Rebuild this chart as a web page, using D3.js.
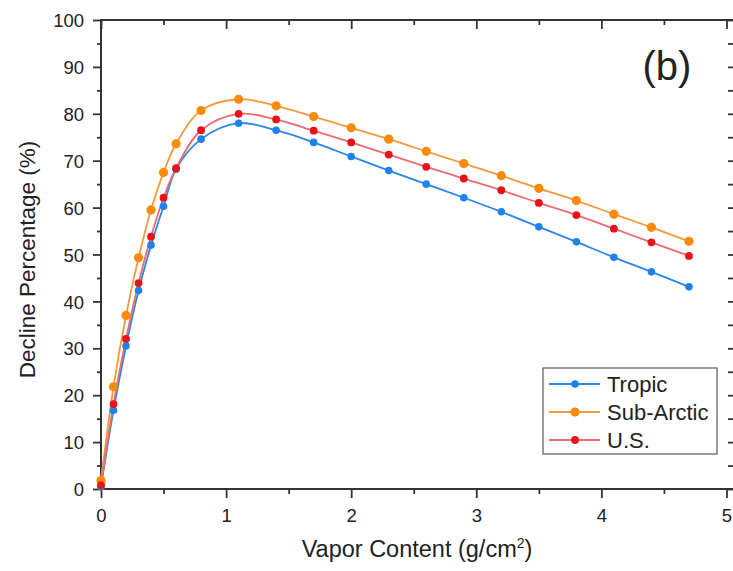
<!DOCTYPE html>
<html>
<head>
<meta charset="utf-8">
<script src="https://cdn.jsdelivr.net/npm/d3@7"></script>
<style>
  body { margin: 0; background: #fff; }
  text { font-family: "Liberation Sans", Arial, sans-serif; fill: #222; }
</style>
</head>
<body>
<svg id="chart" width="733" height="571"></svg>
<script>
// Water vapour content (g/cm^2) and decline percentage for three atmosphere models
const vapor = [0, 0.1, 0.2, 0.3, 0.4, 0.5, 0.6, 0.8, 1.1, 1.4, 1.7, 2.0, 2.3, 2.6, 2.9, 3.2, 3.5, 3.8, 4.1, 4.4, 4.7];
const tropic = [0.5, 16.8, 30.5, 42.3, 52.0, 60.3, 68.2, 74.6, 78.0, 76.5, 73.9, 70.9, 67.9, 65.0, 62.1, 59.1, 55.9, 52.7, 49.4, 46.3, 43.1];
const subArctic = [1.8, 21.8, 37.0, 49.3, 59.5, 67.5, 73.6, 80.7, 83.1, 81.7, 79.4, 77.0, 74.6, 72.0, 69.4, 66.8, 64.1, 61.5, 58.6, 55.8, 52.8];
const us = [0.8, 18.1, 32.0, 43.9, 53.8, 62.1, 68.4, 76.5, 80.0, 78.8, 76.4, 73.9, 71.3, 68.7, 66.2, 63.7, 61.0, 58.4, 55.5, 52.6, 49.7];

const seriesNames = ["Tropic", "Sub-Arctic", "U.S."];
const xTicks = [0, 1, 2, 3, 4, 5];
const yTicks = [0, 10, 20, 30, 40, 50, 60, 70, 80, 90, 100];
const panelLabel = "(b)";

const series = [
  { name: seriesNames[0], values: tropic, dot: "#1f82ea", line: "#2a86e8", r: 3.8 },
  { name: seriesNames[1], values: subArctic, dot: "#f98a0c", line: "#f39a3c", r: 4.6 },
  { name: seriesNames[2], values: us, dot: "#ea1219", line: "#ec6a72", r: 3.9 }
];

const svg = d3.select("#chart");
const W = 733;
const pLeft = 101, pTop = 20, pRight = 726.5, pBottom = 489;

const x = d3.scaleLinear().domain([0, 5]).range([pLeft, pRight]);
const y = d3.scaleLinear().domain([0, 100]).range([pBottom, pTop]);

const axisColor = "#333";
const minorX = d3.range(0, 5.01, 0.5);
const minorY = d3.range(0, 100.1, 5);

// Bottom axis (outward ticks)
const gB = svg.append("g").attr("transform", `translate(0,${pBottom})`);
gB.call(d3.axisBottom(x).tickValues(minorX).tickSize(5).tickFormat(""));
gB.selectAll(".tick line").filter(d => Number.isInteger(d)).attr("y2", 9);
gB.selectAll(".tick").filter(d => Number.isInteger(d)).append("text")
  .attr("y", 33).attr("text-anchor", "middle").style("font-size", "18.5px")
  .text(d => xTicks.includes(d) ? d3.format("d")(d) : "");

// Top axis (inward ticks)
const gT = svg.append("g").attr("transform", `translate(0,${pTop})`);
gT.call(d3.axisTop(x).tickValues(minorX).tickSize(-5).tickFormat(""));
gT.selectAll(".tick line").filter(d => Number.isInteger(d)).attr("y2", 9);

// Left axis (outward ticks, labelled)
const gL = svg.append("g").attr("transform", `translate(${pLeft},0)`);
gL.call(d3.axisLeft(y).tickValues(minorY).tickSize(4).tickFormat(""));
gL.selectAll(".tick line").filter(d => d % 10 === 0).attr("x2", -8);
gL.selectAll(".tick").filter(d => d % 10 === 0).append("text")
  .attr("x", -17).attr("dy", "0.36em").attr("text-anchor", "end").style("font-size", "18.5px")
  .text(d => yTicks.includes(d) ? d : "");

// Right side: tick marks only
const gR = svg.append("g").attr("transform", `translate(${pRight + 1.5},0)`);
gR.call(d3.axisRight(y).tickValues(minorY).tickSize(6).tickFormat(""));
gR.select(".domain").remove();

// Axis lines spanning the full frame width
[gB, gT, gL, gR].forEach(g => {
  g.selectAll(".tick line").attr("stroke", axisColor).attr("stroke-width", 1.8);
  g.select(".domain").attr("stroke", axisColor).attr("stroke-width", 2);
});
gB.select(".domain").attr("d", `M${pLeft - 1},0H${W}`);
gT.select(".domain").attr("d", `M${pLeft - 1},0H${W}`);
gL.select(".domain").attr("d", `M0,${pTop - 1}V${pBottom + 1}`);

// Curves and markers
const line = d3.line().x((d, i) => x(vapor[i])).y(d => y(d)).curve(d3.curveCatmullRom.alpha(0.5));
series.forEach(s => {
  svg.append("path").datum(s.values).attr("d", line)
    .attr("fill", "none").attr("stroke", s.line).attr("stroke-width", 1.8);
});
series.forEach(s => {
  svg.append("g").selectAll("circle").data(s.values).join("circle")
    .attr("cx", (d, i) => x(vapor[i])).attr("cy", d => y(d)).attr("r", s.r)
    .attr("fill", s.dot);
});

// Axis titles
svg.append("text").attr("x", 417).attr("y", 557)
  .attr("text-anchor", "middle").style("font-size", "23.5px")
  .html('Vapor Content (g/cm<tspan dy="-9" style="font-size:14px">2</tspan><tspan dy="9">)</tspan>');
svg.append("text").attr("transform", `translate(35,${(pTop + pBottom) / 2 + 5}) rotate(-90)`)
  .attr("text-anchor", "middle").style("font-size", "22.5px").text("Decline Percentage (%)");

// Panel label
svg.append("text").attr("x", 667).attr("y", 80).attr("text-anchor", "middle")
  .style("font-size", "40px").text(panelLabel);

// Legend
const lg = svg.append("g").attr("transform", "translate(543,368)");
lg.append("rect").attr("width", 174).attr("height", 86)
  .attr("fill", "#fff").attr("stroke", "#666").attr("stroke-width", 1.3);
series.forEach((s, i) => {
  const yy = 16 + i * 28;
  lg.append("line").attr("x1", 6).attr("x2", 57).attr("y1", yy).attr("y2", yy)
    .attr("stroke", s.line).attr("stroke-width", 1.8);
  lg.append("circle").attr("cx", 32).attr("cy", yy).attr("r", s.r).attr("fill", s.dot);
  lg.append("text").attr("x", 64).attr("y", yy).attr("dy", "0.36em")
    .style("font-size", "22px").text(s.name);
});
</script>
</body>
</html>
